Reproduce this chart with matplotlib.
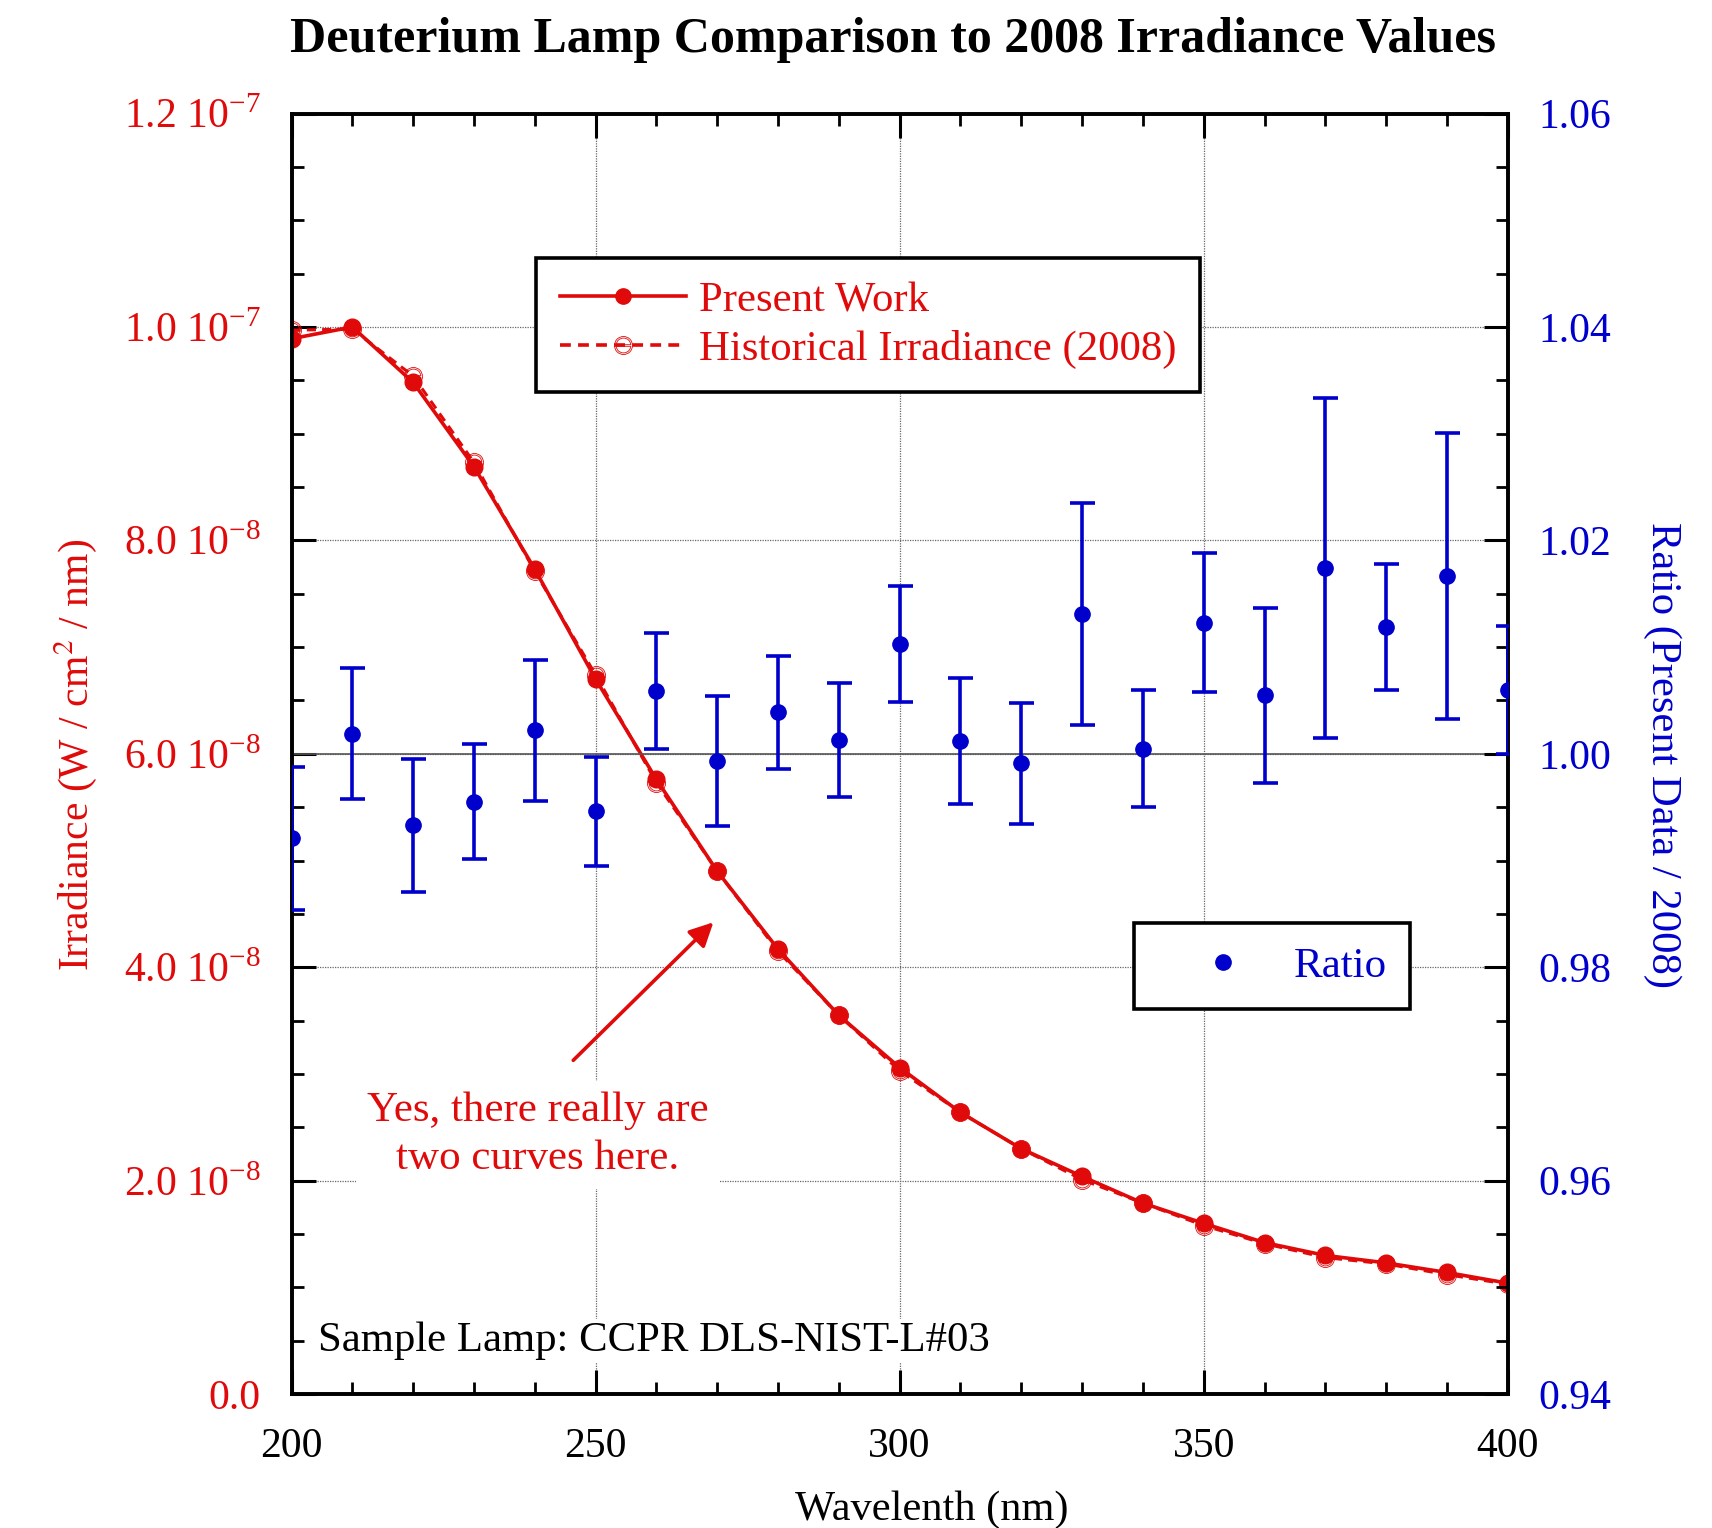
import matplotlib
matplotlib.use("Agg")
import matplotlib.pyplot as plt
from matplotlib.lines import Line2D
from matplotlib.ticker import MultipleLocator, FixedLocator, FixedFormatter

plt.rcParams['font.family'] = ['Liberation Serif', 'DejaVu Serif']
plt.rcParams['mathtext.fontset'] = 'stix'

RED = '#e00a0a'
BLUE = '#0000cc'

wavelength = [200, 210, 220, 230, 240, 250, 260, 270, 280, 290, 300,
              310, 320, 330, 340, 350, 360, 370, 380, 390, 400]
present = [9.89e-8, 10.00e-8, 9.48e-8, 8.69e-8, 7.73e-8, 6.70e-8, 5.76e-8, 4.90e-8,
           4.17e-8, 3.55e-8, 3.06e-8, 2.64e-8, 2.30e-8, 2.04e-8, 1.79e-8, 1.60e-8,
           1.42e-8, 1.30e-8, 1.23e-8, 1.14e-8, 1.04e-8]
historical = [9.97e-8, 9.98e-8, 9.54e-8, 8.73e-8, 7.71e-8, 6.74e-8, 5.73e-8, 4.90e-8,
              4.15e-8, 3.55e-8, 3.03e-8, 2.64e-8, 2.30e-8, 2.01e-8, 1.79e-8, 1.58e-8,
              1.41e-8, 1.28e-8, 1.22e-8, 1.12e-8, 1.03e-8]
ratio = [0.9921, 1.0019, 0.9933, 0.9955, 1.0022, 0.9946, 1.0059, 0.9993, 1.0039, 1.0013,
         1.0103, 1.0012, 0.9991, 1.0131, 1.0005, 1.0123, 1.0055, 1.0174, 1.0119, 1.0167,
         1.0060]
ratio_err = [0.0067, 0.0061, 0.0062, 0.0054, 0.0066, 0.0051, 0.0054, 0.0061, 0.0053, 0.0053,
             0.0054, 0.0059, 0.0057, 0.0104, 0.0055, 0.0065, 0.0082, 0.0159, 0.0059, 0.0134,
             0.0060]

left_ticks = [0.0, 2e-8, 4e-8, 6e-8, 8e-8, 1.0e-7, 1.2e-7]
left_labels = ['0.0', '2.0 10$^{\\mathregular{-8}}$', '4.0 10$^{\\mathregular{-8}}$',
               '6.0 10$^{\\mathregular{-8}}$', '8.0 10$^{\\mathregular{-8}}$',
               '1.0 10$^{\\mathregular{-7}}$', '1.2 10$^{\\mathregular{-7}}$']
right_ticks = [0.94, 0.96, 0.98, 1.00, 1.02, 1.04, 1.06]
right_labels = ['0.94', '0.96', '0.98', '1.00', '1.02', '1.04', '1.06']
x_ticks = [200, 250, 300, 350, 400]

fig = plt.figure(figsize=(17.12, 15.28), dpi=100)
ax = fig.add_axes([0.1703, 0.0876, 0.7104, 0.8381])
ax2 = ax.twinx()

# Irradiance curves
ax.plot(wavelength, historical, color=RED, lw=2.2, ls=(0, (3, 2)), marker='$\\ominus$',
        ms=13, mew=0.6, mfc='none', zorder=3)
ax.plot(wavelength, present, color=RED, lw=2.6, marker='o', ms=12, zorder=4)

ax.set_xlim(200, 400)
ax.set_ylim(0, 1.2e-7)
ax.yaxis.set_major_locator(FixedLocator(left_ticks))
ax.yaxis.set_major_formatter(FixedFormatter(left_labels))
ax.yaxis.set_minor_locator(MultipleLocator(0.5e-8))
ax.xaxis.set_major_locator(FixedLocator(x_ticks))
ax.xaxis.set_minor_locator(MultipleLocator(10))
ax.grid(True, which='major', ls=(0, (1, 1)), color='#666666', lw=0.9)

ax.tick_params(axis='both', which='major', direction='in', length=17, width=2.2,
               labelsize=30, top=True, pad=22)
ax.tick_params(axis='x', which='major', pad=24)
ax.tick_params(axis='both', which='minor', direction='in', length=8.5, width=2.0, top=True)
ax.tick_params(axis='y', labelcolor=RED)
for s in ax.spines.values():
    s.set_linewidth(2.6)

# Ratio
ax2.axhline(1.0, color='#555555', lw=1.2, zorder=1)
ax2.errorbar(wavelength, ratio, yerr=ratio_err, fmt='o', color=BLUE, ms=11,
             elinewidth=2.6, capsize=9, capthick=2.6, zorder=3)
ax2.set_ylim(0.94, 1.06)
ax2.yaxis.set_major_locator(FixedLocator(right_ticks))
ax2.yaxis.set_major_formatter(FixedFormatter(right_labels))
ax2.yaxis.set_minor_locator(MultipleLocator(0.005))
ax2.tick_params(axis='y', which='major', direction='in', length=17, width=2.2,
                labelsize=30, labelcolor=BLUE, pad=22)
ax2.tick_params(axis='y', which='minor', direction='in', length=8.5, width=2.0)
for s in ax2.spines.values():
    s.set_linewidth(2.6)

# Legends
h1 = Line2D([], [], color=RED, lw=2.6, marker='o', ms=11)
h2 = Line2D([], [], color=RED, lw=2.6, ls=(0, (3, 2)), marker='$\\ominus$', ms=13,
            mew=0.6, mfc='none')
leg1 = ax.legend([h1, h2], ['Present Work', 'Historical Irradiance (2008)'],
                 loc='upper left', bbox_to_anchor=(0.201, 0.8875), borderaxespad=0,
                 fontsize=30.8, frameon=True, fancybox=False, edgecolor='black',
                 framealpha=1, handlelength=2.95, labelcolor=RED, borderpad=0.55,
                 labelspacing=0.22, handletextpad=0.3)
leg1.get_frame().set_linewidth(2.6)

h3 = Line2D([], [], color=BLUE, ls='none', marker='o', ms=11)
leg2 = ax2.legend([h3], ['Ratio'], loc='upper left', bbox_to_anchor=(0.693, 0.368),
                  borderaxespad=0, fontsize=31, frameon=True, fancybox=False,
                  edgecolor='black', framealpha=1, handlelength=3.03, handletextpad=0.12,
                  labelcolor=BLUE, borderpad=0.55)
leg2.get_frame().set_linewidth(2.6)

# Annotations
ax2.annotate('', xy=(269.7, 44.4e-9), xytext=(246.0, 31.1e-9),
             xycoords=ax.transData, textcoords=ax.transData,
             arrowprops=dict(arrowstyle='-|>', color=RED, lw=2.6, mutation_scale=36))
ax2.text(240.5, 2.43e-8, 'Yes, there really are\ntwo curves here.', transform=ax.transData,
         ha='center', va='center', color=RED, fontsize=31, linespacing=1.3,
         bbox=dict(facecolor='white', edgecolor='none', pad=8))
ax2.text(204.3, 0.50e-8, 'Sample Lamp: CCPR DLS-NIST-L#03', transform=ax.transData,
         ha='left', va='center', color='black', fontsize=30.8,
         bbox=dict(facecolor='white', edgecolor='none', pad=2))

fig.text(0.5217, 0.9735, 'Deuterium Lamp Comparison to 2008 Irradiance Values',
         ha='center', va='center', fontsize=36, fontweight='bold')
fig.text(0.544, 0.012, 'Wavelenth (nm)', ha='center', va='center', fontsize=30.5)
fig.text(0.0440, 0.506, 'Irradiance (W / cm$^2$ / nm)', ha='center', va='center',
         rotation=90, fontsize=30, color=RED)
fig.text(0.971, 0.506, 'Ratio (Present Data / 2008)', ha='center', va='center',
         rotation=270, fontsize=30.7, color=BLUE)

fig.savefig('out.png', dpi=100)
